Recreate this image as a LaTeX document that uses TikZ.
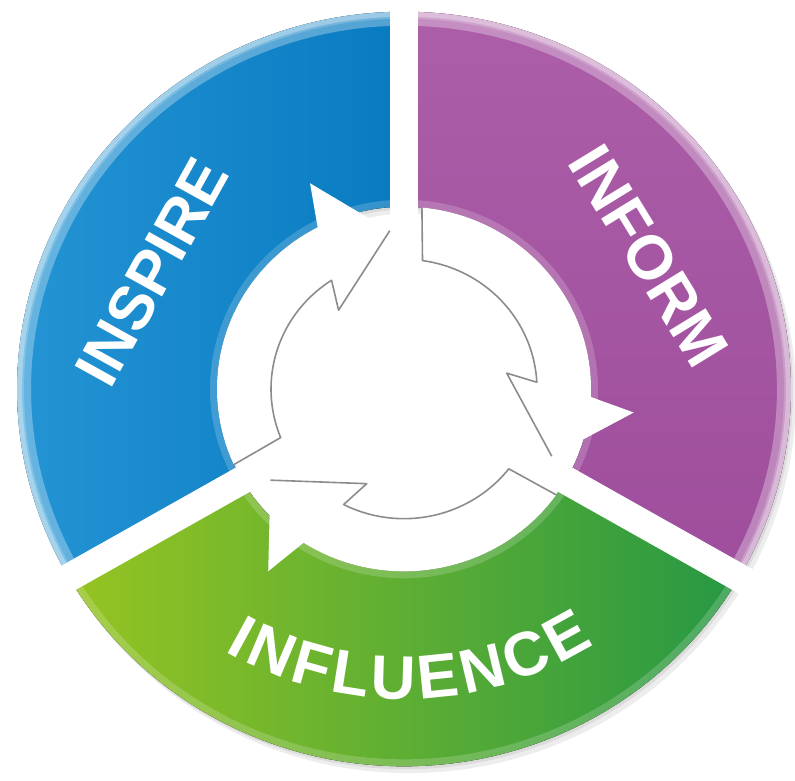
\documentclass[tikz,border=0pt]{standalone}
\usepackage{fontspec}
\setmainfont{Liberation Sans}
\usetikzlibrary{decorations.text}
\definecolor{inspireblue}{RGB}{8,122,192}
\definecolor{inspirelight}{RGB}{36,148,212}
\definecolor{informpurple}{RGB}{158,78,156}
\definecolor{informlight}{RGB}{172,94,168}
\definecolor{influlight}{RGB}{150,196,34}
\definecolor{infludark}{RGB}{38,152,68}
\newcommand{\ringpart}[2]{plot[domain=#1:#2, samples=60] (\x:387) -- plot[domain=#2:#1, samples=40] (\x:187) -- cycle}

\begin{document}
\begin{tikzpicture}[x=1pt, y=0.975pt,
    shadowpart/.style={black, opacity=.07},
    bluepart/.style={left color=inspirelight, right color=inspireblue},
    purplepart/.style={top color=informlight, bottom color=informpurple},
    greenpart/.style={left color=influlight, right color=infludark},
    rimglow/.style={draw=white, opacity=.18, line width=#1},
    gapline/.style={white, line width=28pt},
    cyclearrow/.style={gray!90, line width=1.6pt, line join=round},
    wordlabel/.style={white, font=\bfseries\fontsize{62}{62}\selectfont, inner sep=0pt}]
  \useasboundingbox[fill=white] (-404pt,-391pt) rectangle (391pt,389pt);
  \foreach \a/\b in {90/210, -30/90, 210/330} {
    \fill[shadowpart, shift={(2,-3)}] \ringpart{\a}{\b};
    \fill[shadowpart, shift={(5,-7)}] \ringpart{\a}{\b};
  }
  \foreach \a/\b/\part/\glow in {90/210/bluepart/.3, -30/90/purplepart/.3, 210/330/greenpart/0} {
    \fill[\part] \ringpart{\a}{\b};
    \begin{scope}
      \clip \ringpart{\a}{\b};
      \draw[rimglow=14] \ringpart{\a}{\b};
      \draw[white, opacity=\glow, line width=28] plot[domain=\a:\b, samples=60] (\x:387);
      \draw[white, opacity=\glow, line width=10] plot[domain=\a:\b, samples=60] (\x:387);
    \end{scope}
  }
  \foreach \g in {90,-30,210}
    \draw[gapline] (0,0) -- (\g:420);
  \foreach \o in {0,-120,-240} {
    \fill[white] ({\o+204.5}:187) -- plot[domain=\o+204.5:\o+117.5, samples=40] (\x:187) -- ({\o+114}:231) -- ({\o+95}:163) -- ({\o+129}:104) -- ({\o+123}:133) -- plot[domain=\o+123:\o+202, samples=40] (\x:133) -- cycle;
    \draw[cyclearrow] ({\o+204.5}:187) -- ({\o+202}:133) -- plot[domain=\o+202:\o+123, samples=40] (\x:133) -- ({\o+129}:104) -- ({\o+95}:163);
  }
  \node[wordlabel, rotate=61] (inspire) at (-252pt,117pt) {INSPIRE};
  \node[wordlabel, rotate=-58.5] (inform) at (245pt,133pt) {INFORM};
  \path[decorate, decoration={text along path, text align={fit to path},
      text={|\color{white}\bfseries\fontsize{62}{62}\selectfont|INFLUENCE}}]
    ([shift={(0pt,49pt)}]240:359pt) arc[start angle=240, end angle=302, radius=359pt];
\end{tikzpicture}
\end{document}
